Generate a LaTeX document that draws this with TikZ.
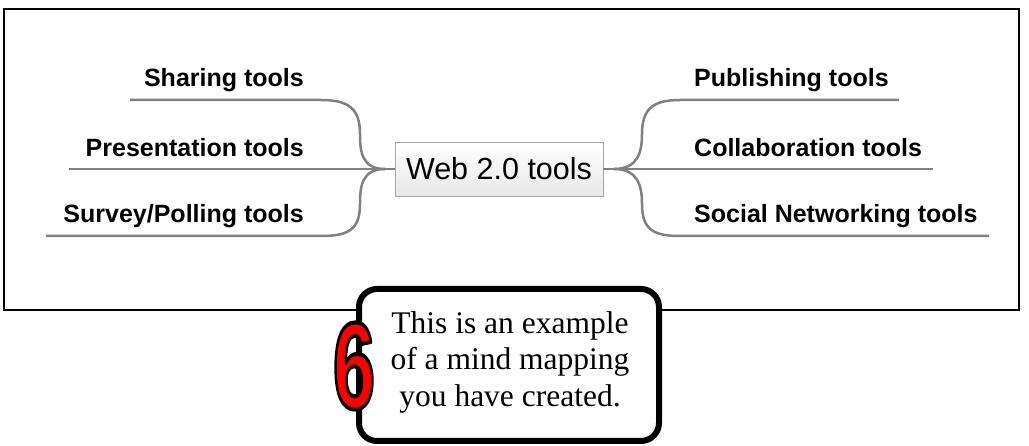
\documentclass[tikz,border=0pt]{standalone}
\usepackage{fontspec}
\usepackage{graphicx}
\setmainfont{Liberation Serif}
\newfontfamily\mapfont{Liberation Sans}
% outlined digit: fill red, stroke black
\newcommand{\sixdigit}{\scalebox{0.62}[1]{\special{pdf:literal direct 0 0 0 RG 4 w 1 j 2 Tr}6\special{pdf:literal direct 0 Tr}}}

\begin{document}
\begin{tikzpicture}[x=1pt,y=-1pt,
    tool/.style={font=\mapfont\bfseries\fontsize{25}{29}\selectfont, inner sep=0pt},
    hub/.style={draw=gray!70, top color=white, bottom color=gray!18,
        font=\mapfont\fontsize{30.5}{36}\selectfont,
        minimum width=208pt, minimum height=54pt, inner sep=0pt},
    branch/.style={draw=black!50, line width=2.5pt},
    sixstyle/.style={font=\mapfont\bfseries\fontsize{123}{123}\selectfont, inner sep=0pt}]
    \useasboundingbox (0,0) rectangle (1029,446);

    % Outer frame
    \draw[line width=2pt] (4,9) rectangle (1019,310);

    % Central topic
    \node[hub] (web) at (499,169) {Web 2.0 tools};
    \coordinate (lj) at (385,169);
    \coordinate (rj) at (614,169);

    % Left topics
    \node[tool, anchor=base east] (share) at (304,87) {Sharing tools};
    \node[tool, anchor=base east] (pres) at (304,157) {Presentation tools};
    \node[tool, anchor=base east] (survey) at (304,223) {Survey/Polling tools};
    \coordinate (shareR) at (321,100);  \coordinate (shareL) at (130,100);
    \coordinate (presL) at (69,169);
    \coordinate (surveyR) at (321,236); \coordinate (surveyL) at (46,236);

    % Right topics
    \node[tool, anchor=base west] (pub) at (694,87) {Publishing tools};
    \node[tool, anchor=base west] (collab) at (694,157) {Collaboration tools};
    \node[tool, anchor=base west] (social) at (694,223) {Social Networking tools};
    \coordinate (pubL) at (680,100);    \coordinate (pubR) at (899,100);
    \coordinate (collabR) at (933,169);
    \coordinate (socialL) at (680,236); \coordinate (socialR) at (989,236);

    % Branches on the left
    \draw[branch] (web.west) -- (presL);
    \draw[branch] (lj) .. controls (362,169) and (360,152) .. (360,134)
        .. controls (360,108) and (348,100) .. (shareR) -- (shareL);
    \draw[branch] (lj) .. controls (362,169) and (360,186) .. (360,204)
        .. controls (360,230) and (348,236) .. (surveyR) -- (surveyL);

    % Branches on the right
    \draw[branch] (web.east) -- (collabR);
    \draw[branch] (rj) .. controls (638,169) and (642,152) .. (642,134)
        .. controls (642,108) and (654,100) .. (pubL) -- (pubR);
    \draw[branch] (rj) .. controls (638,169) and (642,186) .. (642,204)
        .. controls (642,230) and (654,236) .. (socialL) -- (socialR);

    % Callout box
    \draw[line width=6pt, fill=white, rounded corners=18pt] (359,289) rectangle (659,441);
    \node[anchor=north, align=center, inner sep=0pt, font=\fontsize{31.5}{36.5}\selectfont]
        (note) at (510,311) {This is an example\\of a mind mapping\\you have created.};

    % Step number
    \node[sixstyle, text=red] (six) at (354,366) {\sixdigit};
\end{tikzpicture}
\end{document}
